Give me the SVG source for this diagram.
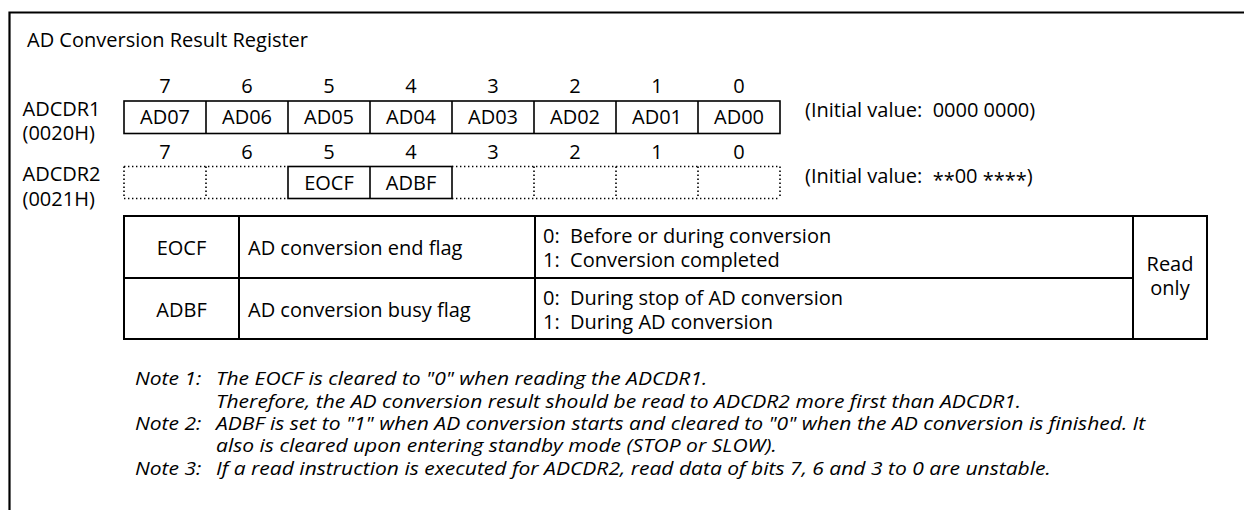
<svg xmlns="http://www.w3.org/2000/svg" width="1244" height="510" viewBox="0 0 1244 510">
<style>
text{font-family:"Open Sans","Noto Sans","Liberation Sans",sans-serif;fill:#000;font-size:20px}
.c{text-anchor:middle}
.n{font-style:italic;font-size:18.5px}
.box{fill:none;stroke:#000;stroke-width:1.6}
.dot{fill:none;stroke:#000;stroke-width:1.6;stroke-dasharray:1.4 2.6}
.tbl{fill:none;stroke:#000;stroke-width:2}
.frame{fill:none;stroke:#000;stroke-width:2.2}
</style>
<rect width="1244" height="510" fill="#fff"/>
<path class="frame" d="M9.5 510V12.5H1244"/>
<text id="title" x="27" y="46.5">AD Conversion Result Register</text>

<g id="adcdr1">
<text x="22.5" y="115.5">ADCDR1</text>
<text x="22.5" y="140">(0020H)</text>
<g class="c">
<text x="165" y="93">7</text><text x="247" y="93">6</text><text x="329" y="93">5</text><text x="411" y="93">4</text>
<text x="493" y="93">3</text><text x="575" y="93">2</text><text x="657" y="93">1</text><text x="739" y="93">0</text>
</g>
<rect class="box" x="124" y="101" width="656" height="32.5"/>
<path class="box" d="M206 101V133.5M288 101V133.5M370 101V133.5M452 101V133.5M534 101V133.5M616 101V133.5M698 101V133.5"/>
<g class="c">
<text x="165" y="124">AD07</text><text x="247" y="124">AD06</text><text x="329" y="124">AD05</text><text x="411" y="124">AD04</text>
<text x="493" y="124">AD03</text><text x="575" y="124">AD02</text><text x="657" y="124">AD01</text><text x="739" y="124">AD00</text>
</g>
<text x="805" y="117" xml:space="preserve">(Initial value:  0000 0000)</text>
</g>

<g id="adcdr2">
<text x="22.5" y="181">ADCDR2</text>
<text x="22.5" y="205.5">(0021H)</text>
<g class="c">
<text x="165" y="159">7</text><text x="247" y="159">6</text><text x="329" y="159">5</text><text x="411" y="159">4</text>
<text x="493" y="159">3</text><text x="575" y="159">2</text><text x="657" y="159">1</text><text x="739" y="159">0</text>
</g>
<path class="dot" d="M124 166.5H288M124 198.5H288M452 166.5H780M452 198.5H780M124 166.5V198.5M206 166.5V198.5M534 166.5V198.5M616 166.5V198.5M698 166.5V198.5M780 166.5V198.5"/>
<rect class="box" x="288" y="166.5" width="164" height="32"/>
<path class="box" d="M370 166.5V198.5"/>
<text class="c" x="329" y="190">EOCF</text>
<text class="c" x="411" y="190">ADBF</text>
<text x="805" y="183" xml:space="preserve">(Initial value:  <tspan dy="4">**</tspan><tspan dy="-4">00 </tspan><tspan dy="4">****</tspan><tspan dy="-4">)</tspan></text>
</g>

<g id="table">
<rect class="tbl" x="124" y="216" width="1083" height="123"/>
<path class="tbl" d="M124 278H1133M239 216V339M535 216V339M1133 216V339"/>
<text class="c" x="181.5" y="255">EOCF</text>
<text x="248" y="255">AD conversion end flag</text>
<text x="543" y="243" xml:space="preserve">0:  Before or during conversion</text>
<text x="543" y="266.7" xml:space="preserve">1:  Conversion completed</text>
<text class="c" x="181.5" y="316.5">ADBF</text>
<text x="248" y="316.5">AD conversion busy flag</text>
<text x="543" y="305" xml:space="preserve">0:  During stop of AD conversion</text>
<text x="543" y="328.7" xml:space="preserve">1:  During AD conversion</text>
<text class="c" x="1170" y="271">Read</text>
<text class="c" x="1170" y="295">only</text>
</g>

<g id="notes" transform="matrix(1.138 0 0 1 0 0)">
<text class="n" x="118.6" y="385.5">Note 1:</text>
<text class="n" x="189.8" y="385.5">The EOCF is cleared to "0" when reading the ADCDR1.</text>
<text class="n" x="189.8" y="407.8">Therefore, the AD conversion result should be read to ADCDR2 more first than ADCDR1.</text>
<text class="n" x="118.6" y="430.1">Note 2:</text>
<text class="n" x="189.8" y="430.1">ADBF is set to "1" when AD conversion starts and cleared to "0" when the AD conversion is finished. It</text>
<text class="n" x="189.8" y="452.4">also is cleared upon entering standby mode (STOP or SLOW).</text>
<text class="n" x="118.6" y="474.7">Note 3:</text>
<text class="n" x="189.8" y="474.7">If a read instruction is executed for ADCDR2, read data of bits 7, 6 and 3 to 0 are unstable.</text>
</g>
</svg>
